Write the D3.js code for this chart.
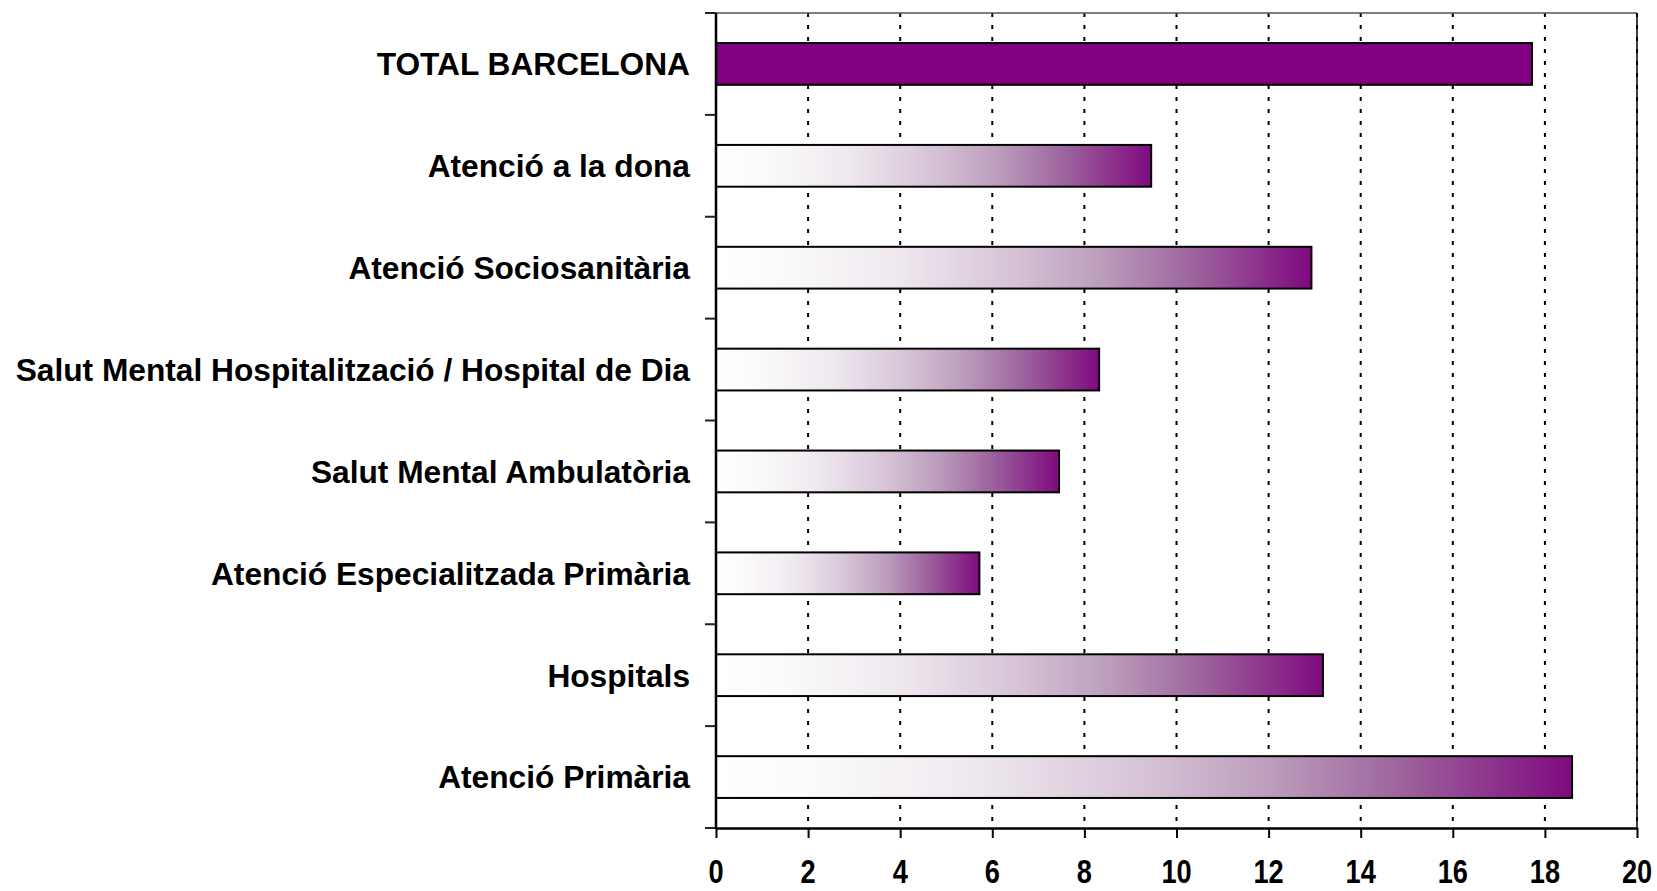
<!DOCTYPE html>
<html lang="ca">
<head>
<meta charset="UTF-8">
<title>Barcelona</title>
<script src="https://d3js.org/d3.v7.min.js"></script>
<style>
  html, body { margin: 0; padding: 0; background: #fff; }
  svg { display: block; font-family: "Liberation Sans", Arial, sans-serif; }
</style>
</head>
<body>
<div id="chart"></div>
<script>
const categories = [
  "TOTAL BARCELONA",
  "Atenció a la dona",
  "Atenció Sociosanitària",
  "Salut Mental Hospitalització / Hospital de Dia",
  "Salut Mental Ambulatòria",
  "Atenció Especialitzada Primària",
  "Hospitals",
  "Atenció Primària"
];
const values = [17.72, 9.45, 12.93, 8.32, 7.45, 5.72, 13.18, 18.59];
const xTicks = [0, 2, 4, 6, 8, 10, 12, 14, 16, 18, 20];

const width = 1657, height = 891;
const plotL = 716, plotR = 1637, plotT = 13, plotB = 828;

const svg = d3.select("#chart").append("svg")
  .attr("width", width)
  .attr("height", height);

const defs = svg.append("defs");
const grad = defs.append("linearGradient")
  .attr("id", "fade")
  .attr("x1", "0").attr("x2", "1").attr("y1", "0").attr("y2", "0");
[[0, "#ffffff"], [0.1, "#fcfbfc"], [0.3, "#efe9ef"], [0.5, "#d6c3d6"],
 [0.65, "#bb9cbb"], [0.8, "#9d649d"], [1, "#7f0a7f"]].forEach(s => {
  grad.append("stop").attr("offset", s[0]).attr("stop-color", s[1]);
});

const x = d3.scaleLinear().domain([0, 20]).range([plotL, plotR]);
const y = d3.scaleBand()
  .domain(categories)
  .range([plotT, plotB])
  .paddingInner(0.59)
  .paddingOuter(0.295);

// dotted gridlines
svg.append("g")
  .selectAll("line")
  .data(xTicks.filter(d => d > 0))
  .enter().append("line")
  .attr("x1", d => x(d)).attr("x2", d => x(d))
  .attr("y1", plotT).attr("y2", plotB)
  .attr("stroke", "#000")
  .attr("stroke-width", 2)
  .attr("stroke-dasharray", "4,8");

// top and right frame
svg.append("line")
  .attr("x1", plotL - 11).attr("x2", plotR)
  .attr("y1", plotT).attr("y2", plotT)
  .attr("stroke", "#555").attr("stroke-width", 1.5);
svg.append("line")
  .attr("x1", plotR).attr("x2", plotR)
  .attr("y1", plotT).attr("y2", plotB)
  .attr("stroke", "#000").attr("stroke-width", 1.5);

// bars
svg.append("g")
  .selectAll("rect")
  .data(categories)
  .enter().append("rect")
  .attr("x", x(0))
  .attr("y", d => y(d))
  .attr("width", (d, i) => x(values[i]) - x(0))
  .attr("height", y.bandwidth())
  .attr("fill", (d, i) => i === 0 ? "#800080" : "url(#fade)")
  .attr("stroke", "#000")
  .attr("stroke-width", 2);

// y axis with ticks on band boundaries
const bounds = categories.map(c => y(c) + y.bandwidth() / 2 - y.step() / 2);
bounds.push(plotB);
svg.append("g")
  .selectAll("line")
  .data(bounds)
  .enter().append("line")
  .attr("x1", plotL - 11).attr("x2", plotL)
  .attr("y1", d => d).attr("y2", d => d)
  .attr("stroke", "#222").attr("stroke-width", 2);
svg.append("line")
  .attr("x1", plotL).attr("x2", plotL)
  .attr("y1", plotT).attr("y2", plotB + 1)
  .attr("stroke", "#000").attr("stroke-width", 2.5);

svg.append("g")
  .selectAll("text")
  .data(categories)
  .enter().append("text")
  .attr("x", 690)
  .attr("y", d => y(d) + y.bandwidth() / 2)
  .attr("dy", "0.36em")
  .attr("text-anchor", "end")
  .attr("font-size", 31.7)
  .attr("font-weight", "bold")
  .text(d => d);

// x axis
const xAxis = svg.append("g")
  .attr("transform", `translate(0,${plotB})`)
  .call(d3.axisBottom(x).tickValues(xTicks).tickSize(10).tickSizeOuter(0).tickFormat(""));
xAxis.select(".domain").attr("stroke", "#000").attr("stroke-width", 2.5);
xAxis.selectAll(".tick line").attr("stroke", "#000").attr("stroke-width", 2);

svg.append("g")
  .selectAll("text")
  .data(xTicks)
  .enter().append("text")
  .attr("transform", d => `translate(${x(d)},883) scale(0.8,1)`)
  .attr("text-anchor", "middle")
  .attr("font-size", 34)
  .attr("font-weight", "bold")
  .text(d => d);
</script>
</body>
</html>
